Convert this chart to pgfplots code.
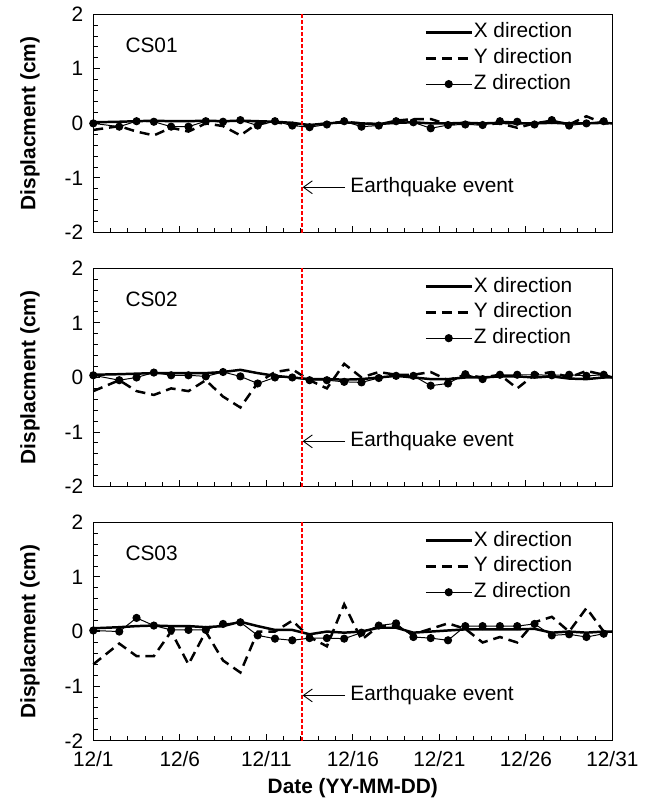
\documentclass[border=0pt]{standalone}
\usepackage{fontspec}
\setmainfont{Liberation Sans}
\usepackage{xcolor}
\usepackage{pgfplots}
\pgfplotsset{compat=1.18}
\usepackage{pgfplotstable}
\usetikzlibrary{arrows.meta}

\definecolor{quakered}{RGB}{255,0,0}
\newcommand\fs{\fontsize{21bp}{25bp}\selectfont}

% t = day of December; nan = no reading
\pgfplotstableread{
t    X     Y      Z
1    0.02  -0.12  0.00
2.5  0.03  -0.05  -0.06
3.5  0.04  -0.15  0.04
4.5  0.05  -0.22  0.03
5.5  0.04  -0.08  -0.06
6.5  0.04  -0.15  -0.06
7.5  0.05  0.00   0.04
8.5  0.04  -0.05  0.03
9.5  0.05  -0.22  0.06
10.5 0.04  0.00   -0.04
11.5 0.03  0.02   0.04
12.5 0.01  -0.02  -0.04
13.5 -0.03 -0.05  -0.07
14.5 0.00  0.00   -0.02
15.5 0.02  0.03   0.04
16.5 0.00  0.00   -0.06
17.5 -0.01 -0.02  -0.04
18.5 0.01  0.05   0.04
19.5 0.02  0.08   0.02
20.5 0.00  0.08   -0.09
21.5 0.00  -0.02  -0.03
22.5 0.01  0.00   -0.02
23.5 0.00  -0.02  -0.03
24.5 0.01  0.00   0.04
25.5 0.00  -0.08  0.03
26.5 0.00  0.00   -0.02
27.5 0.01  0.05   0.06
28.5 0.00  -0.02  -0.04
29.5 0.00  0.13   0.00
30.5 0.01  0.00   0.04
31   0.00  0.00   nan
}\csa

\pgfplotstableread{
t    X     Y      Z
1    0.05  -0.25  0.04
2.5  0.06  -0.05  -0.05
3.5  0.07  -0.25  0.00
4.5  0.08  -0.32  0.09
5.5  0.08  -0.20  0.04
6.5  0.08  -0.25  0.04
7.5  0.08  -0.05  0.02
8.5  0.10  -0.35  0.10
9.5  0.14  -0.55  0.02
10.5 0.08  -0.10  -0.11
11.5 0.03  0.10   0.00
12.5 0.00  0.15   0.00
13.5 -0.03 -0.05  -0.05
14.5 -0.03 -0.20  -0.05
15.5 -0.04 0.25   -0.08
16.5 -0.03 0.00   -0.09
17.5 0.00  0.10   -0.01
18.5 0.03  0.05   0.03
19.5 0.00  0.05   0.03
20.5 -0.03 0.10   -0.15
21.5 -0.03 -0.05  -0.11
22.5 0.00  0.05   0.06
23.5 0.00  0.00   -0.03
24.5 0.02  0.05   0.05
25.5 0.02  -0.20  0.05
26.5 0.00  0.05   0.05
27.5 0.02  0.10   0.04
28.5 -0.02 0.00   0.05
29.5 -0.03 0.12   0.03
30.5 0.00  0.05   0.05
31   0.00  0.00   nan
}\csb

\pgfplotstableread{
t    X     Y      Z
1    0.06  -0.60  0.02
2.5  0.08  -0.22  0.00
3.5  0.10  -0.45  0.25
4.5  0.11  -0.45  0.11
5.5  0.10  0.00   0.03
6.5  0.10  -0.60  0.03
7.5  0.08  0.00   0.03
8.5  0.10  -0.53  0.14
9.5  0.18  -0.75  0.17
10.5 0.10  0.00   -0.07
11.5 0.03  0.00   -0.13
12.5 0.03  0.20   -0.16
13.5 -0.05 -0.10  -0.12
14.5 0.00  -0.27  -0.12
15.5 -0.02 0.50   -0.13
16.5 0.00  -0.15  -0.02
17.5 0.07  0.10   0.11
18.5 0.07  0.10   0.15
19.5 -0.02 -0.05  -0.10
20.5 0.00  0.05   -0.12
21.5 0.02  0.15   -0.16
22.5 0.04  0.05   0.10
23.5 0.04  -0.20  0.10
24.5 0.04  -0.10  0.10
25.5 0.04  -0.20  0.10
26.5 0.05  0.17   0.14
27.5 -0.02 0.27   -0.07
28.5 0.00  0.00   -0.05
29.5 -0.02 0.43   -0.10
30.5 0.00  0.00   -0.04
31   0.00  0.00   nan
}\csc

\pgfplotsset{
  panel/.style={
    width=523bp, height=220bp, scale only axis,
    xmin=1, xmax=31, ymin=-2, ymax=2,
    xtick={1,6,...,31}, minor x tick num=4,
    ytick={-2,-1,0,1,2}, yticklabels={-2,-1,0,1,2}, minor y tick num=4,
    xtick pos=bottom, ytick pos=left, tick align=inside,
    major tick length=7bp, minor tick length=5bp,
    tick style={black, line width=1bp},
    axis line style={line width=1.3bp},
    clip=false,
    tick label style={font=\fs},
    yticklabel style={xshift=-3bp},
    ylabel={\bfseries Displacment (cm)},
    every axis y label/.style={at={(axis description cs:-0.122,0.5)}, rotate=90, anchor=center, font=\fs},
    legend style={at={(axis description cs:0.925,0.965)}, anchor=north east,
      draw=none, fill=none, inner sep=0pt, row sep=5bp, column sep=0pt, font=\fs,
      nodes={inner sep=1bp, text height=15bp, text depth=4bp}},
    legend cell align=left,
    legend image code/.code={\draw[mark repeat=2, mark phase=2, #1]
      plot coordinates {(0bp,0bp) (23bp,0bp) (46bp,0bp)};},
  },
  xs/.style={black, line width=2.5bp, no marks},
  ys/.style={black, line width=2.5bp, dash pattern=on 10bp off 6bp, no marks},
  zs/.style={black, line width=1bp, mark=*, mark size=3.6bp, mark options={solid, fill=black}},
}

\newcommand\quake{%
  \draw[draw=quakered, line width=1.6bp, dash pattern=on 4bp off 2bp] (axis cs:13.05,-2) -- (axis cs:13.05,2);
  \draw[black, -{Straight Barb[length=9bp,width=13bp]}, line width=0.9bp] (axis cs:15.55,-1.17) -- (axis cs:13.1,-1.17);
  \node[anchor=west, inner sep=0pt, font=\fs] at (axis cs:15.85,-1.17) {Earthquake event};
}

\begin{document}
\fs
\begin{tikzpicture}
\begin{axis}[panel, at={(0,512bp)}, xticklabels={}]
\addplot[xs] table[x=t, y=X] {\csa};
\addplot[ys] table[x=t, y=Y] {\csa};
\addplot[zs] table[x=t, y=Z] {\csa};
\legend{X direction, Y direction, Z direction}
\quake
\node[anchor=west, inner sep=0pt, font=\fs] at (axis cs:2.85,1.43) {CS01};
\end{axis}

\begin{axis}[panel, at={(0,256bp)}, xticklabels={}]
\addplot[xs] table[x=t, y=X] {\csb};
\addplot[ys] table[x=t, y=Y] {\csb};
\addplot[zs] table[x=t, y=Z] {\csb};
\legend{X direction, Y direction, Z direction}
\quake
\node[anchor=west, inner sep=0pt, font=\fs] at (axis cs:2.85,1.43) {CS02};
\end{axis}

\begin{axis}[panel, at={(0,0)},
  xticklabels={12/1,12/6,12/11,12/16,12/21,12/26,12/31},
  xticklabel style={yshift=-4bp},
  xlabel={\bfseries Date (YY-MM-DD)},
  every axis x label/.style={at={(axis description cs:0.5,-0.218)}, anchor=center, font=\fs}]
\addplot[xs] table[x=t, y=X] {\csc};
\addplot[ys] table[x=t, y=Y] {\csc};
\addplot[zs] table[x=t, y=Z] {\csc};
\legend{X direction, Y direction, Z direction}
\quake
\node[anchor=west, inner sep=0pt, font=\fs] at (axis cs:2.85,1.43) {CS03};
\end{axis}

\path (-94bp,-60bp) rectangle (563bp,745bp);
\end{tikzpicture}
\end{document}
